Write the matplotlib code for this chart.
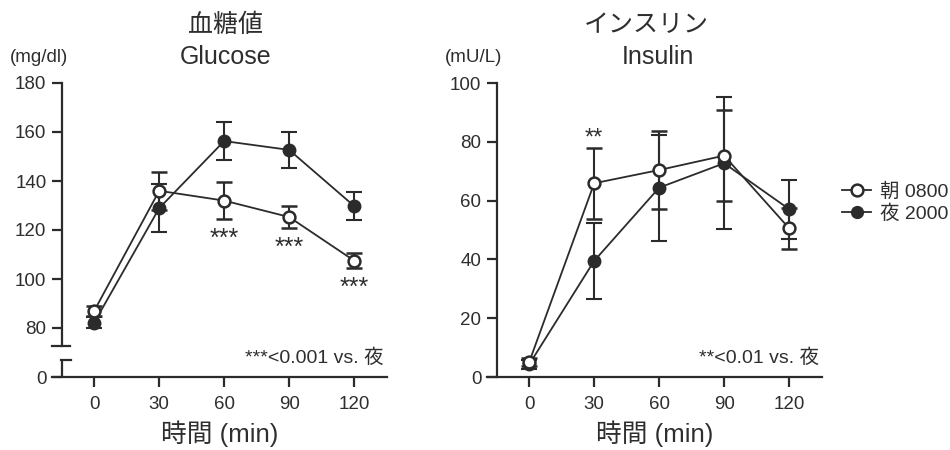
import matplotlib

matplotlib.use('Agg')

import matplotlib.pyplot as plt
import numpy as np
from matplotlib.lines import Line2D

plt.rcParams['font.family'] = ['Liberation Sans', 'Noto Sans CJK JP']

DARK = '#2b2b2b'
TEXT = '#2e2e2e'

minutes = [0, 30, 60, 90, 120]
xticks = [0, 30, 60, 90, 120]

glucose_am = [87, 136, 132, 125.3, 107.5]
glucose_am_err = [2, 7.8, 7.7, 4.5, 3]
glucose_pm = [82.2, 128.9, 156.3, 152.7, 129.8]
glucose_pm_err = [2.2, 9.8, 7.8, 7.3, 5.6]
glucose_stars = [60, 90, 120]
glucose_yticks = [0, 80, 100, 120, 140, 160, 180]

insulin_am = [5.1, 65.9, 70.4, 75.3, 50.6]
insulin_am_err = [1.5, 12, 13.3, 15.5, 7]
insulin_pm = [4.3, 39.5, 64.4, 72.7, 57.1]
insulin_pm_err = [1.5, 13, 18, 22.5, 10]
insulin_stars = [30]
insulin_yticks = [0, 20, 40, 60, 80, 100]

labels = ['朝 0800', '夜 2000']


def fwd(v):
    v = np.asarray(v, dtype=float)
    return np.where(v >= 70, v, 60 + v / 7)


def inv(u):
    u = np.asarray(u, dtype=float)
    return np.where(u >= 70, u, (u - 60) * 7)


def draw_series(ax, am, am_err, pm, pm_err):
    ax.errorbar(minutes, pm, yerr=pm_err, color=DARK, lw=1.3, marker='o', ms=8.5,
                mfc=DARK, mec=DARK, mew=1.5, capsize=6, capthick=1.5, elinewidth=1.5,
                zorder=3, clip_on=False)
    ax.errorbar(minutes, am, yerr=am_err, color=DARK, lw=1.3, marker='o', ms=8.5,
                mfc='white', mec=DARK, mew=1.8, capsize=6, capthick=1.5, elinewidth=1.5,
                zorder=4, clip_on=False)


def style_axes(ax):
    for s in ['top', 'right']:
        ax.spines[s].set_visible(False)
    ax.spines['left'].set_position(('data', -15))
    for s in ['left', 'bottom']:
        ax.spines[s].set_linewidth(1.6)
        ax.spines[s].set_color(DARK)
    ax.set_xlim(-19.5, 135.2)
    ax.set_xticks(xticks)
    ax.tick_params(axis='both', colors=DARK, labelcolor=TEXT, labelsize=13.5,
                   width=1.6, length=7)
    ax.tick_params(axis='x', pad=7)
    ax.tick_params(axis='y', pad=4)
    ax.set_xlabel('時間 (min)', fontsize=18.5, color=TEXT, labelpad=5)


def titles(ax, jp, en, unit, jp_x, en_x):
    ax.text(jp_x, 1.197, jp, transform=ax.transAxes, ha='center', va='center',
            fontsize=18, color=TEXT)
    ax.text(en_x, 1.088, en, transform=ax.transAxes, ha='center', va='center',
            fontsize=18, color=TEXT)
    ax.text(-0.125, 1.088, unit, transform=ax.transAxes, ha='left', va='center',
            fontsize=13.5, color=TEXT)


fig = plt.figure(figsize=(9.5, 4.5), dpi=100)
ax1 = fig.add_axes([52 / 950, 73 / 450, 335 / 950, 294 / 450])
ax2 = fig.add_axes([487 / 950, 73 / 450, 335 / 950, 294 / 450])

# glucose, broken y axis
ax1.set_yscale('function', functions=(fwd, inv))
draw_series(ax1, glucose_am, glucose_am_err, glucose_pm, glucose_pm_err)
style_axes(ax1)
ax1.set_ylim(0, 180)
ax1.set_yticks(glucose_yticks)
ax1.spines['left'].set_bounds(72.6, 180)
ax1.plot([-15, -15], [0, 48], color=DARK, lw=1.6, clip_on=False, solid_capstyle='butt')
ax1.plot([-19.4, -11], [72.6, 72.6], color=DARK, lw=1.6, clip_on=False)
ax1.plot([-15.5, -10.8], [48, 48], color=DARK, lw=1.6, clip_on=False)
for t in glucose_stars:
    i = minutes.index(t)
    ax1.annotate('***', (t, glucose_am[i] - glucose_am_err[i]), xytext=(0, -19),
                 textcoords='offset points', ha='center', va='baseline',
                 fontsize=18, color=TEXT)
ax1.text(0.99, 0.065, '***<0.001 vs. 夜', transform=ax1.transAxes, ha='right',
         va='center', fontsize=14, color=TEXT)
titles(ax1, '血糖値', 'Glucose', '(mg/dl)', 0.519, 0.519)

# insulin
draw_series(ax2, insulin_am, insulin_am_err, insulin_pm, insulin_pm_err)
style_axes(ax2)
ax2.set_ylim(0, 100)
ax2.set_yticks(insulin_yticks)
for t in insulin_stars:
    i = minutes.index(t)
    ax2.annotate('**', (t, insulin_am[i] + insulin_am_err[i]), xytext=(0, 2.5),
                 textcoords='offset points', ha='center', va='baseline',
                 fontsize=17, color=TEXT)
ax2.text(0.99, 0.065, '**<0.01 vs. 夜', transform=ax2.transAxes, ha='right',
         va='center', fontsize=14, color=TEXT)
titles(ax2, 'インスリン', 'Insulin', '(mU/L)', 0.475, 0.509)

handles = [
    Line2D([], [], color=DARK, lw=1.3, marker='o', ms=8.5, mfc='white', mec=DARK, mew=1.8),
    Line2D([], [], color=DARK, lw=1.3, marker='o', ms=8.5, mfc=DARK, mec=DARK),
]
fig.legend(handles, labels, loc='center left', bbox_to_anchor=(842 / 950, 247 / 450),
           frameon=False, fontsize=14, handlelength=1.5, handletextpad=0.45,
           borderpad=0, borderaxespad=0, labelspacing=0.2, labelcolor=TEXT)

fig.savefig('out.png', dpi=100)
plt.close(fig)
